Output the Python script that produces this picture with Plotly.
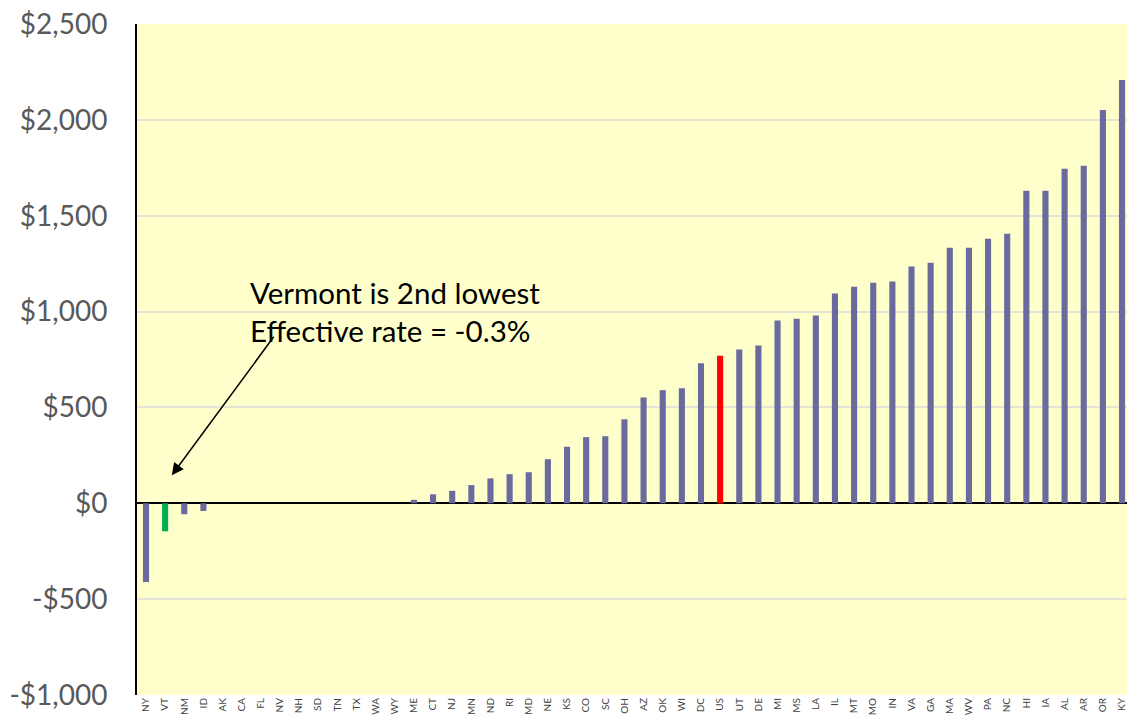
import plotly.graph_objects as go

states = ["NY","VT","NM","ID","AK","CA","FL","NV","NH","SD","TN","TX","WA","WY","ME","CT","NJ","MN","ND","RI",
          "MD","NE","KS","CO","SC","OH","AZ","OK","WI","DC","US","UT","DE","MI","MS","LA","IL","MT","MO","IN",
          "VA","GA","MA","WV","PA","NC","HI","IA","AL","AR","OR","KY"]
values = [-411,-146,-57,-40,0,0,0,0,0,0,0,0,0,0,18,47,65,95,130,152,
          162,230,295,345,350,438,552,590,600,730,770,802,823,953,963,980,1094,1130,1150,1157,
          1235,1255,1333,1333,1380,1406,1630,1630,1745,1760,2052,2208]

tick_vals = [-1000,-500,0,500,1000,1500,2000,2500]
tick_text = ["-$1,000","-$500","$0","$500","$1,000","$1,500","$2,000","$2,500"]

base_color = "#6A6A9E"
colors = []
for s in states:
    if s == "VT":
        colors.append("#00B050")
    elif s == "US":
        colors.append("#FF0000")
    else:
        colors.append(base_color)

fig = go.Figure(go.Bar(x=states, y=values, marker=dict(color=colors, line=dict(width=0)), width=0.32))

fig.add_annotation(x=1.35, y=146, xref="x", yref="y", ax=103, ay=-140, axref="pixel", ayref="pixel",
                   showarrow=True, arrowhead=2, arrowsize=1.6, arrowwidth=1.5, arrowcolor="black", text="")
fig.add_annotation(x=0.112, y=1000, xref="paper", yref="y", xanchor="left", yanchor="middle", align="left",
                   showarrow=False, text="Vermont is 2nd lowest<br>Effective rate = -0.3%",
                   font=dict(family="Lato", size=29.5, color="black"))

fig.update_layout(
    width=1129, height=719,
    margin=dict(l=137, r=2, t=24, b=24, autoexpand=False),
    paper_bgcolor="white", plot_bgcolor="#FFFFCC",
    showlegend=False,
)
fig.update_yaxes(range=[-1000, 2500], tickvals=tick_vals, ticktext=tick_text, automargin=False,
                 tickfont=dict(family="Lato", size=28, color="#595959"),
                 showgrid=True, gridcolor="#E3E3D6", gridwidth=2,
                 zeroline=True, zerolinecolor="black", zerolinewidth=2,
                 showline=True, linecolor="black", linewidth=2, ticks="", ticklabelstandoff=22)
fig.update_xaxes(tickangle=-90, tickfont=dict(family="Lato", size=10, color="#404040"), automargin=False,
                 showgrid=False, showline=False, ticks="", range=[-0.47, 51.26])

fig.write_html("out.html", config={"displayModeBar": False},
               post_script="document.body.style.margin='0';document.body.style.overflow='hidden';")
